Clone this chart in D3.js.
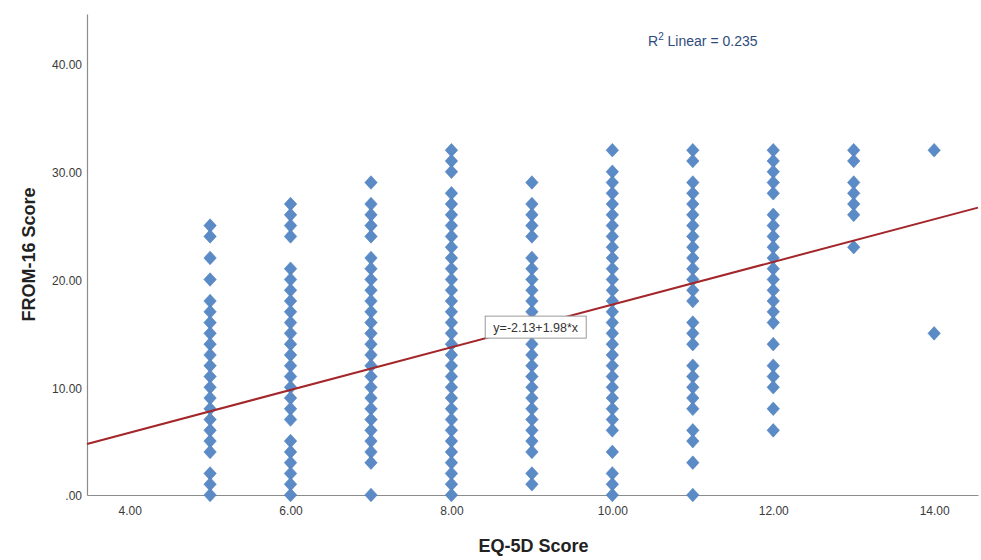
<!DOCTYPE html>
<html>
<head>
<meta charset="utf-8">
<script src="https://cdn.jsdelivr.net/npm/d3@7"></script>
<style>
  html, body { margin: 0; padding: 0; background: #fff; }
  svg { display: block; font-family: "Liberation Sans", Arial, sans-serif; }
</style>
</head>
<body>
<svg id="chart" width="981" height="560"></svg>
<script>
// EQ-5D score levels and the FROM-16 scores observed at each level
const eq5dLevels = [5, 6, 7, 8, 9, 10, 11, 12, 13, 14];
const from16At5  = [25,24,22,20,18,17,16,15,14,13,12,11,10,9,8,7,6,5,4,2,1,0];
const from16At6  = [27,26,25,24,21,20,19,18,17,16,15,14,13,12,11,10,9,8,7,5,4,3,2,1,0];
const from16At7  = [29,27,26,25,24,22,21,20,19,18,17,16,15,14,13,12,11,10,9,8,7,6,5,4,3,0];
const from16At8  = [32,31,30,28,27,26,25,24,23,22,21,20,19,18,17,16,15,14,13,12,11,10,9,8,7,6,5,4,3,2,1,0];
const from16At9  = [29,27,26,25,24,22,21,20,19,18,17,16,15,14,13,12,11,10,9,8,7,6,5,4,2,1];
const from16At10 = [32,30,29,28,27,26,25,24,23,22,21,20,19,18,17,16,15,14,13,12,11,10,9,8,7,6,4,2,1,0];
const from16At11 = [32,31,29,28,27,26,25,24,23,22,21,20,19,18,16,15,14,12,11,10,9,8,6,5,3,0];
const from16At12 = [32,31,30,29,28,26,25,24,23,22,21,20,19,18,17,16,14,12,11,10,8,6];
const from16At13 = [32,31,29,28,27,26,23];
const from16At14 = [32,15];
const from16ByLevel = [from16At5, from16At6, from16At7, from16At8, from16At9,
                       from16At10, from16At11, from16At12, from16At13, from16At14];

// Linear fit reported for the data
const fitIntercept = -2.13;
const fitSlope = 1.98;
const rSquared = 0.235;

// Axis ticks
const xTicks = [4, 6, 8, 10, 12, 14];
const yTicks = [0, 10, 20, 30, 40];

const points = [];
eq5dLevels.forEach((lv, i) => from16ByLevel[i].forEach(v => points.push({ x: lv, y: v })));

const svg = d3.select("#chart");
const plot = { left: 87, right: 978, top: 14, bottom: 495 };

const x = d3.scaleLinear().domain([3.47, 14.545]).range([plot.left, plot.right]);
const y = d3.scaleLinear().domain([0, 44.64]).range([plot.bottom, plot.top]);

const fmt = v => v === 0 ? ".00" : v.toFixed(2);

// Axes: plain grey lines with labels, no tick marks
const xAxis = svg.append("g")
  .attr("transform", `translate(0,${plot.bottom})`)
  .call(d3.axisBottom(x).tickValues(xTicks).tickFormat(fmt).tickSize(0).tickPadding(11));
const yAxis = svg.append("g")
  .attr("transform", `translate(${plot.left},0)`)
  .call(d3.axisLeft(y).tickValues(yTicks).tickFormat(fmt).tickSize(0).tickPadding(5));

[xAxis, yAxis].forEach(g => {
  g.select(".domain").attr("stroke", "#8c8c8c").attr("stroke-width", 1.2);
  g.selectAll("text").attr("fill", "#3a3a3a").attr("font-size", 12)
    .attr("font-family", "'Liberation Sans', Arial, sans-serif");
});
yAxis.selectAll("text").attr("dy", "0.4em");

// Axis titles
svg.append("text")
  .attr("x", (plot.left + plot.right) / 2 + 1)
  .attr("y", 552)
  .attr("text-anchor", "middle")
  .attr("font-size", 18).attr("font-weight", "bold").attr("fill", "#222")
  .text("EQ-5D Score");

svg.append("text")
  .attr("transform", `translate(35,${(plot.top + plot.bottom) / 2}) rotate(-90)`)
  .attr("text-anchor", "middle")
  .attr("font-size", 18).attr("font-weight", "bold").attr("fill", "#222")
  .text("FROM-16 Score");

// Diamond markers
const diamond = "M0,-6.8L6.2,0L0,6.8L-6.2,0Z";
svg.append("g").selectAll("path")
  .data(points)
  .join("path")
  .attr("d", diamond)
  .attr("transform", d => `translate(${x(d.x)},${y(d.y)})`)
  .attr("fill", "#5b8bc6")
  .attr("stroke", "#5080bc")
  .attr("stroke-width", 0.6);

// Fit line across the full x range
const xd = x.domain();
svg.append("line")
  .attr("x1", x(xd[0])).attr("y1", y(fitIntercept + fitSlope * xd[0]))
  .attr("x2", x(xd[1])).attr("y2", y(fitIntercept + fitSlope * xd[1]))
  .attr("stroke", "#a3262a")
  .attr("stroke-width", 2);

// Equation label box
const eqLabel = svg.append("g")
  .attr("transform", `translate(${x(8.42)},${y(16.6)})`);
eqLabel.append("rect")
  .attr("width", 101).attr("height", 22)
  .attr("fill", "#fff").attr("stroke", "#9a9a9a").attr("stroke-width", 1);
eqLabel.append("text")
  .attr("x", 50.5).attr("y", 15.5)
  .attr("text-anchor", "middle")
  .attr("font-size", 12.5).attr("fill", "#333")
  .text(`y=${fitIntercept.toFixed(2)}+${fitSlope.toFixed(2)}*x`);

// R-squared annotation
const r2 = svg.append("text")
  .attr("x", 648).attr("y", 46)
  .attr("font-size", 14).attr("fill", "#2f4b7c");
r2.append("tspan").text("R");
r2.append("tspan").attr("font-size", 10).attr("dy", -6).text("2");
r2.append("tspan").attr("dy", 6).text(` Linear = ${rSquared.toFixed(3)}`);
</script>
</body>
</html>
